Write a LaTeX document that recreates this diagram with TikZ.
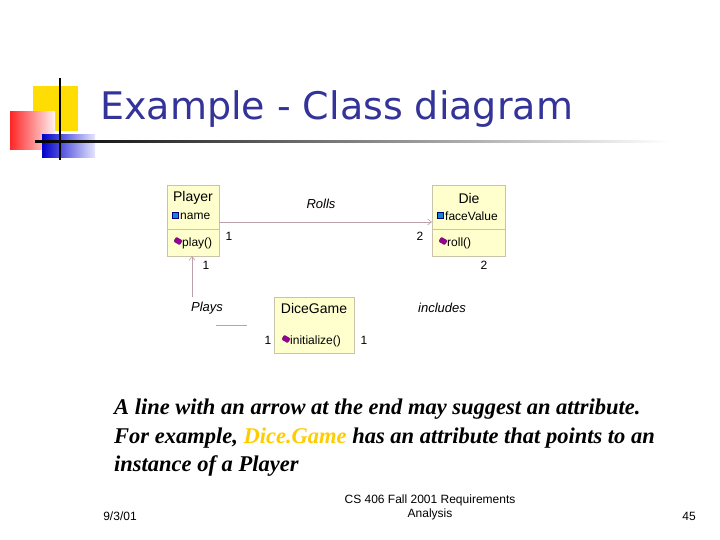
\documentclass[tikz,border=0pt]{standalone}
\usepackage{fontspec}
\setmainfont{Liberation Serif}
\newfontfamily\arialf{Liberation Sans}
\newfontfamily\tahf{DejaVu Sans}
\usetikzlibrary{arrows.meta}
\definecolor{ttl}{RGB}{51,51,153}
\definecolor{boxfill}{RGB}{255,255,206}
\definecolor{boxline}{RGB}{200,195,170}
\definecolor{assoc}{RGB}{190,160,170}
\definecolor{hl}{RGB}{255,204,0}
\tikzset{
 cls/.style={draw=boxline,fill=boxfill,line width=0.6pt},
 lbl/.style={font=\arialf\fontsize{12}{13}\selectfont,inner sep=0pt},
 rl/.style={font=\arialf\itshape\fontsize{13}{14}\selectfont,inner sep=0pt},
 captxt/.style={font=\bfseries\itshape\fontsize{22.5}{24}\selectfont,anchor=base west,inner sep=0pt},
 foot/.style={font=\arialf\fontsize{12}{14}\selectfont,inner sep=0pt},
 meth/.style={fill=violet!80!magenta,draw=violet!60!black,line width=0.3pt,rounded corners=1pt,rotate=-30,minimum width=7pt,minimum height=5pt,inner sep=0pt},
 attr/.style={fill=cyan!70!blue,draw=blue!50!black,line width=0.3pt,minimum size=6pt,inner sep=0pt}
}
\begin{document}
\begin{tikzpicture}[x=1pt,y=-1pt]
\useasboundingbox (0,0) rectangle (720,540);
% logo
\fill[yellow!80!orange] (33,86) rectangle (78,131);
\shade[left color=red!85,right color=red!5] (10,112) rectangle (55,150);
\shade[left color=blue!80!black,right color=blue!10] (42,135) rectangle (95,158);
\draw[line width=1.5pt] (60,78) -- (60,160);
\shade[left color=black,right color=white] (35,141) rectangle (670,143);
\node[anchor=base west,inner sep=0pt,text=ttl,font=\tahf\fontsize{38}{40}\selectfont] (title) at (100,120) {Example - Class diagram};
% classes
\draw[cls] (167,185) rectangle (219,256);
\draw[boxline] (167,229) -- (219,229);
\node[lbl,font=\arialf\fontsize{14}{15}\selectfont] (pl) at (193,198) {Player};
\node[attr] (pa) at (175,215) {};
\node[lbl,anchor=west] (pn) at (180,216) {name};
\node[meth] (pm) at (178,241) {};
\node[lbl,anchor=west] (pp) at (182,243) {play()};
\coordinate (pr) at (219,222);
\coordinate (pb) at (192,256);

\draw[cls] (432,185) rectangle (505,256);
\draw[boxline] (432,229) -- (505,229);
\node[lbl,font=\arialf\fontsize{14}{15}\selectfont] (di) at (469,198) {Die};
\node[attr] (da) at (440,215) {};
\node[lbl,anchor=west] (dn) at (445,216) {faceValue};
\node[meth] (dm) at (443,241) {};
\node[lbl,anchor=west] (dr) at (447,243) {roll()};
\coordinate (dl) at (432,222);

\draw[cls] (274,297) rectangle (354,353);
\node[lbl,font=\arialf\fontsize{14}{15}\selectfont] (dg) at (314,308) {DiceGame};
\node[meth] (gm) at (286,339) {};
\node[lbl,anchor=west] (gi) at (290,341) {initialize()};
% connectors
\draw[assoc,line width=0.6pt,-{Straight Barb[open,length=4pt,width=6pt]}] (pr) -- (dl);
\coordinate (pv) at (192,297);
\draw[assoc,line width=0.6pt,-{Straight Barb[length=4pt,width=6pt]}] (pv) -- (pb);
\coordinate (h1) at (216,325); \coordinate (h2) at (247,325);
\draw[assoc,line width=0.6pt] (h1) -- (h2);
\node[rl] (rolls) at (321,204) {Rolls};
\node[rl] (plays) at (207,308) {Plays};
\node[rl] (incl) at (442,308) {includes};
\node[lbl] (m1) at (229,236) {1};
\node[lbl] (m2) at (420,236) {2};
\node[lbl] (m3) at (484,265) {2};
\node[lbl] (m4) at (206,265) {1};
\node[lbl] (m5) at (268,340) {1};
\node[lbl] (m6) at (364,340) {1};
% caption
\node[captxt] (c1) at (114,414) {A line with an arrow at the end may suggest an attribute.};
\node[captxt] (c2) at (114,443) {For example, \textcolor{hl}{Dice.Game} has an attribute that points to an};
\node[captxt] (c3) at (114,471) {instance of a Player};
% footer
\node[foot] (f1) at (120,516) {9/3/01};
\node[foot,align=center] (f2) at (430,507) {CS 406 Fall 2001 Requirements\\Analysis};
\node[foot] (f3) at (689,516) {45};
\end{tikzpicture}
\end{document}
